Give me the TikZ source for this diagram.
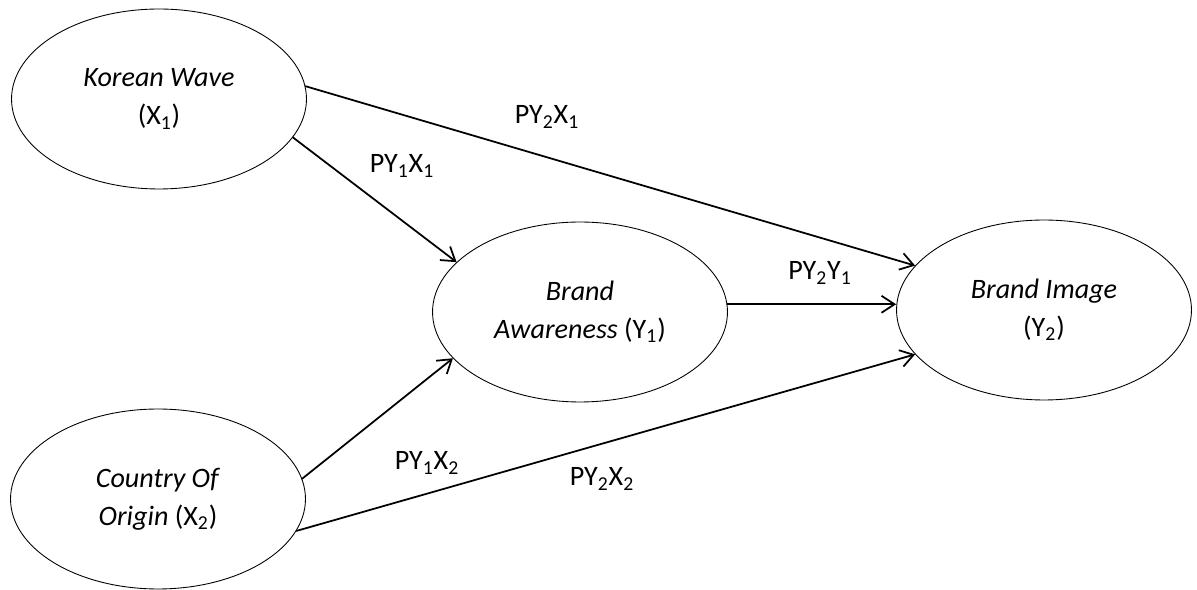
\documentclass[tikz,border=0pt]{standalone}
\usepackage{fontspec}
\setmainfont{Carlito}
\usetikzlibrary{arrows.meta,shapes.geometric}

\begin{document}
\begin{tikzpicture}[line cap=round,line join=round,>={Straight Barb[length=0.26cm,width=0.34cm]},x=0.02cm,y=-0.02cm,
    var/.style={draw,ellipse,line width=0.5pt,minimum width=5.9cm,minimum height=3.6cm,inner sep=0pt,align=center,font=\fontsize{16}{21.5}\selectfont},
    path/.style={->,line width=1pt},
    coef/.style={font=\fontsize{16}{19}\selectfont}]
                \useasboundingbox (0,0) rectangle (1197,590);
                \node[var] (kw) at (159,99) {\textit{Korean Wave}\\(X\textsubscript{1})};
                \node[var] (coo) at (158,499) {\textit{Country Of}\\\textit{Origin} (X\textsubscript{2})};
                \node[var] (ba) at (580,312) {\textit{Brand}\\\textit{Awareness} (Y\textsubscript{1})};
                \node[var] (bi) at (1044,310) {\textit{Brand Image}\\(Y\textsubscript{2})};
                \draw [path] (kw.5)-- (bi.161);
                \draw [path] (kw.-16)-- (ba.158);
                \draw [path] (coo.8)-- (ba.200);
                \draw [path] (coo.-13)-- (bi.199);
                \draw [path] (ba.3)-- (ba.3 -| bi.west);
                \node[coef] (p21) at (547,117) {PY\textsubscript{2}X\textsubscript{1}};
                \node[coef] (p11) at (402,166) {PY\textsubscript{1}X\textsubscript{1}};
                \node[coef] (p2y) at (820,273) {PY\textsubscript{2}Y\textsubscript{1}};
                \node[coef] (p12) at (427,463) {PY\textsubscript{1}X\textsubscript{2}};
                \node[coef] (p22) at (602,479) {PY\textsubscript{2}X\textsubscript{2}};
\end{tikzpicture}
\end{document}
